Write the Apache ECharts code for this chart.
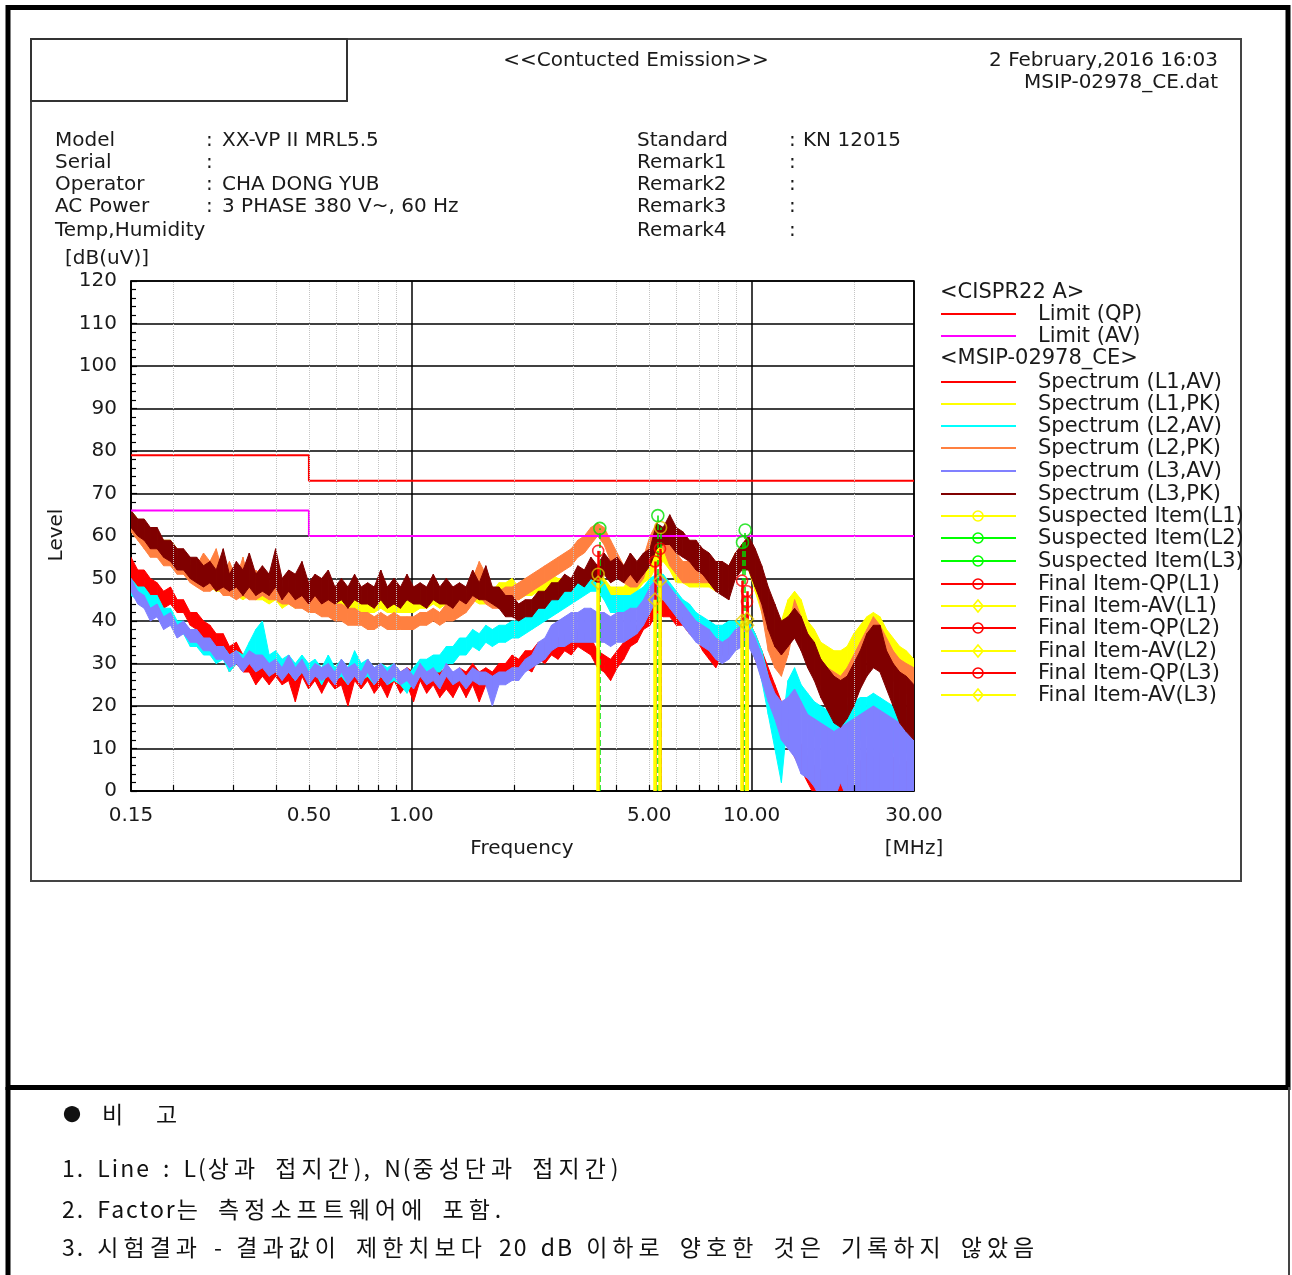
<!DOCTYPE html>
<html><head><meta charset="utf-8">
<script src="https://cdn.jsdelivr.net/npm/echarts/dist/echarts.min.js"></script>
<style>
html,body{margin:0;padding:0;background:#fff;}
#chart{position:absolute;left:0;top:0;width:1292px;height:1275px;}
.rm{position:absolute;font-family:"Noto Sans CJK KR";font-size:23px;line-height:30px;color:#111;white-space:pre;letter-spacing:2px;word-spacing:5px;}
.rm .k{letter-spacing:5px;}
</style></head>
<body>
<div id="chart"></div>
<div class="rm" style="left:63px;top:1098px;font-size:18px;">●</div>
<div class="rm" style="left:102px;top:1098px;">비</div>
<div class="rm" style="left:156px;top:1098px;">고</div>
<div class="rm" style="left:62px;top:1152px;">1. Line : L(<span class="k">상과 접지간</span>), N(<span class="k">중성단과 접지간</span>)</div>
<div class="rm" style="left:62px;top:1193px;">2. Factor<span class="k">는 측정소프트웨어에 포함</span>.</div>
<div class="rm" style="left:62px;top:1231px;">3. <span class="k">시험결과</span> - <span class="k">결과값이 제한치보다</span> 20 dB <span class="k">이하로 양호한 것은 기록하지 않았음</span></div>
<script>
// ---------- data ----------
const freqMHz = [
 0.150,0.157,0.164,0.171,0.179,0.187,0.196,0.205,0.214,0.224,
 0.234,0.245,0.256,0.267,0.280,0.292,0.306,0.320,0.334,0.349,
 0.365,0.382,0.399,0.417,0.436,0.456,0.477,0.499,0.521,0.545,
 0.570,0.596,0.623,0.651,0.681,0.712,0.744,0.778,0.813,0.850,
 0.889,0.929,0.971,1.015,1.061,1.109,1.160,1.212,1.267,1.325,
 1.385,1.448,1.514,1.583,1.655,1.730,1.809,1.891,1.977,2.067,
 2.161,2.259,2.362,2.469,2.581,2.699,2.821,2.950,3.084,3.224,
 3.370,3.524,3.684,3.851,4.026,4.209,4.401,4.601,4.810,5.028,
 5.257,5.496,5.746,6.007,6.280,6.565,6.864,7.176,7.502,7.843,
 8.199,8.572,8.961,9.369,9.795,10.24,10.71,11.19,11.70,12.23,
 12.79,13.37,13.98,14.61,15.28,15.97,16.70,17.46,18.25,19.08,
 19.95,20.86,21.80,22.79,23.83,24.91,26.05,27.23,28.47,30.00];

// Spectrum (L1,AV) red: low / high edge of the noisy trace
const l1AvLo = [
 50,48,48,46,46,43,44,42,42,39, 38,35,35,32,33,28,30,28,28,25,
 27,25,27,25,26,21,27,24,26,23, 26,24,25,20,26,24,26,23,25,22,
 26,23,25,21,26,23,25,22,24,22, 25,22,25,21,25,23,26,26,28,27,
 29,28,31,30,32,31,33,32,34,33, 32,29,28,26,29,31,34,35,38,39,
 42,41,41,39,39,37,36,33,31,29, 32,32,35,35,36,31,27,23,19,15,
 11,8,5,2,-1,-3,-3,-3,-3,-3, -2,-2,0,-1,1,-2,0,-2,-1,-2];
const l1AvHi = [
 55,52,52,50,49,47,48,45,45,42, 42,40,39,37,37,34,35,32,32,30,
 32,30,31,30,30,29,31,29,30,28, 31,29,30,28,30,29,31,28,30,28,
 30,28,29,28,30,28,29,28,29,27, 29,28,30,28,29,28,30,30,32,31,
 33,33,35,35,36,36,37,37,38,37, 36,33,32,31,33,35,38,39,42,43,
 46,45,45,43,43,41,40,37,35,33, 35,36,39,39,40,37,33,29,25,21,
 17,14,11,8,6,5,4,4,5,6, 7,7,9,8,9,6,8,6,7,5];

// Spectrum (L1,PK) yellow
const l1PkLo = [
 63,61,59,57,57,55,54,53,51,50, 49,48,48,47,47,46,46,45,46,45,
 45,44,45,43,44,43,44,42,43,42, 43,42,43,42,43,42,42,42,43,42,
 42,42,42,42,43,43,44,43,44,43, 44,44,45,44,44,44,45,46,46,45,
 46,46,47,47,47,47,46,46,47,48, 48,47,46,44,44,45,46,47,49,50,
 53,54,52,49,49,48,48,48,48,47, 47,48,51,53,52,47,42,37,35,35,
 40,43,39,34,32,29,28,27,27,28, 31,33,35,37,36,33,30,28,27,25];
const l1PkHi = [
 66,64,63,61,61,59,59,57,56,54, 53,52,52,51,52,50,51,49,51,49,
 50,48,49,47,48,47,49,46,47,46, 47,46,48,45,47,46,46,45,47,45,
 46,45,46,45,47,47,48,46,48,47, 48,47,49,48,48,47,49,49,50,48,
 50,49,51,50,51,50,50,49,51,51, 52,51,50,48,48,48,50,51,53,54,
 58,58,57,53,54,52,53,51,52,50, 51,52,56,57,57,52,48,43,41,40,
 45,47,45,40,38,35,34,33,33,34, 37,39,41,42,41,38,36,34,33,31];

// Spectrum (L2,AV) cyan
const l2AvLo = [
 46,45,45,42,43,40,40,37,37,34, 34,32,32,30,31,28,30,29,30,31,
 30,28,29,27,28,26,28,26,28,25, 28,26,27,25,28,26,27,25,27,25,
 26,25,23,26,27,27,28,28,30,30, 32,32,34,33,35,34,35,35,36,36,
 37,38,39,40,41,42,43,44,45,46, 47,47,45,42,42,42,42,43,44,46,
 47,47,45,43,41,39,38,37,36,35, 35,36,36,36,36,32,26,18,10,2,
 18,22,19,16,13,11,8,6,5,8, 10,12,13,14,13,10,9,8,9,8];
const l2AvHi = [
 50,48,48,46,46,43,43,40,40,37, 37,35,35,33,34,32,33,32,35,38,
 40,32,33,31,32,30,32,30,31,29, 32,29,31,29,33,30,31,29,30,29,
 30,28,27,29,31,31,32,32,34,34, 36,36,38,37,39,38,39,39,40,40,
 41,42,43,44,45,46,47,48,49,50, 51,51,49,46,46,46,46,47,48,50,
 51,51,49,47,45,44,42,41,40,39, 39,40,40,40,40,37,33,27,21,14,
 26,29,25,23,21,20,19,19,19,20, 21,22,22,23,22,21,20,19,19,18];

// Spectrum (L2,PK) orange
const l2PkLo = [
 61,59,57,55,55,53,53,51,51,49, 48,47,47,48,46,46,45,46,45,45,
 46,45,45,44,44,43,43,42,42,41, 41,40,40,39,39,39,38,38,39,38,
 38,38,38,38,39,39,40,39,40,40, 41,42,44,46,44,43,43,44,45,45,
 46,47,48,49,50,51,52,53,55,56, 58,60,58,54,51,49,48,48,50,55,
 59,57,53,51,49,49,49,49,49,47, 47,48,51,54,55,50,42,33,29,27,
 32,39,35,31,28,25,22,21,20,22, 25,28,31,34,32,29,26,24,23,22];
const l2PkHi = [
 64,62,61,59,59,57,57,55,55,53, 53,56,54,57,51,54,50,55,49,52,
 50,49,51,48,48,47,47,46,46,45, 45,44,44,43,43,42,42,41,42,41,
 42,41,41,41,42,42,43,42,44,43, 45,46,50,54,51,48,47,48,48,49,
 50,51,52,53,54,55,56,57,59,60, 62,63,62,59,56,53,52,52,55,60,
 63,61,58,56,54,54,53,53,54,52, 52,53,56,58,60,55,48,39,34,32,
 38,45,41,37,34,31,29,28,27,29, 32,35,38,41,39,36,33,31,30,29];

// Spectrum (L3,AV) blue
const l3AvLo = [
 47,44,43,40,41,38,39,36,37,35, 35,33,33,31,31,29,30,28,30,28,
 29,27,28,26,28,26,28,25,27,26, 27,25,28,25,27,25,28,25,27,25,
 27,25,26,24,27,25,26,24,27,25, 26,24,26,25,25,20,25,25,26,26,
 28,29,30,31,33,34,34,35,35,35, 35,35,35,34,35,35,36,37,39,42,
 45,45,43,41,39,37,35,34,33,31, 30,31,33,34,34,31,26,21,17,12,
 10,8,4,3,1,-2,0,-2,2,-2, -1,-2,0,-2,-1,-2,-1,-2,-1,-2];
const l3AvHi = [
 50,47,46,43,44,41,42,39,40,38, 38,36,36,34,34,32,33,31,33,32,
 32,30,31,29,32,29,31,28,30,29, 30,28,31,29,30,28,31,29,30,28,
 30,28,29,27,30,28,29,27,30,28, 29,27,29,28,28,27,28,28,29,29,
 31,32,35,36,39,40,41,42,42,43, 43,42,42,41,42,42,43,43,45,48,
 50,50,48,46,44,42,40,39,38,36, 35,36,38,39,39,36,32,27,23,21,
 22,24,21,18,17,16,15,14,15,16, 17,18,19,20,19,18,17,16,16,15];

// Spectrum (L3,PK) dark red
const l3PkLo = [
 62,60,59,57,57,55,54,52,52,50, 49,48,49,47,48,47,48,46,48,46,
 47,46,48,45,47,45,46,44,46,44, 45,44,45,43,45,44,44,43,45,43,
 44,43,45,44,44,43,45,44,44,43, 45,44,46,45,45,44,43,41,41,40,
 41,41,43,43,45,45,47,47,49,48, 50,49,51,49,50,49,51,49,51,53,
 57,58,58,56,55,54,52,51,49,47, 46,45,50,52,52,48,44,38,34,32,
 34,36,33,29,26,22,19,16,15,17, 20,24,27,29,28,24,20,16,14,12];
const l3PkHi = [
 66,64,64,62,62,59,59,57,57,55, 55,53,54,52,57,51,54,52,56,51,
 53,51,57,50,52,51,54,49,51,50, 52,48,50,48,51,48,49,48,52,48,
 50,48,51,48,49,48,51,48,50,48, 49,48,52,49,53,48,48,46,46,44,
 45,45,47,47,49,49,51,50,53,52, 55,53,56,54,55,53,56,54,56,57,
 63,62,65,62,61,59,59,57,56,54, 54,53,56,58,60,57,53,48,44,40,
 41,43,41,37,35,31,29,27,26,27, 30,33,37,39,39,33,30,28,27,25];

const limitQP = [[0.15,79],[0.5,79],[0.5,73],[30,73]];
const limitAV = [[0.15,66],[0.5,66],[0.5,60],[30,60]];

const suspL1 = [[5.40,62.0],[3.54,51.0]];
const suspL2 = [[3.58,61.8],[9.40,58.5]];
const suspL3 = [[5.30,64.8],[9.57,61.4]];

const finalQPL1 = [[3.54,56.5],[9.37,49.5]];
const finalAVL1 = [[3.54,49.0],[9.37,40.0]];
const finalQPL2 = [[5.20,54.0],[9.69,47.0]];
const finalAVL2 = [[5.20,45.0],[9.69,40.5]];
const finalQPL3 = [[5.38,57.0],[9.69,44.5]];
const finalAVL3 = [[5.38,49.5],[9.69,39.0]];

const xTickLabels = [0.15, 0.5, 1, 5, 10, 30];
const xMinorGrid = [0.2,0.3,0.4,0.5,0.6,0.7,0.8,0.9,2,3,4,5,6,7,8,9,20];

// ---------- chart ----------
const FONT = '"DejaVu Sans"';
const TXT = '#1a1a1a';
const chart = echarts.init(document.getElementById('chart'), null, {renderer:'canvas'});

function vlines(items){ return items.map(p => [{coord:[p[0],0]},{coord:[p[0],p[1]]}]); }

function band(name, lo, hi, color, z){
  const n = Math.min(freqMHz.length, lo.length, hi.length);
  const data = [];
  for (let i = 0; i < n; i++) data.push([freqMHz[i], lo[i], hi[i]]);
  return {name, type:'custom', z, clip:true, silent:true, data,
    encode:{x:0, y:[1,2]},
    renderItem(params, api){
      const i = params.dataIndex;
      if (i >= n - 1) return null;
      const a = data[i], b = data[i+1];
      const pts = [api.coord([a[0],a[1]]), api.coord([a[0],a[2]]), api.coord([b[0],b[2]]), api.coord([b[0],b[1]])];
      return {type:'polygon', shape:{points:pts}, style:{fill:color, stroke:color, lineWidth:1}};
    }};
}
function holder(name, lines, color, width, type, z){
  return {name, type:'line', data:[], z, silent:true,
    markLine:{silent:true, symbol:['none','none'], label:{show:false}, animation:false,
      lineStyle:{color, width, type}, data:lines}};
}
function marks(name, data, symbol, color, size, z){
  return {name, type:'scatter', data, symbol, symbolSize:size, z, silent:true,
    itemStyle:{color:'rgba(0,0,0,0)', borderColor:color, borderWidth:1.6}};
}

const series = [
  holder('grid-minor', xMinorGrid.map(f=>[{coord:[f,0]},{coord:[f,120]}]), '#c4c4c4', 1, 'dotted', 1),
  holder('tick-minor', xMinorGrid.map(f=>[{coord:[f,0]},{coord:[f,1.4]}]), '#000', 1.2, 'solid', 1),
  band('Spectrum (L1,AV)', l1AvLo, l1AvHi, '#ff0000', 2),
  band('Spectrum (L1,PK)', l1PkLo, l1PkHi, '#ffff00', 2),
  band('Spectrum (L2,AV)', l2AvLo, l2AvHi, '#00ffff', 2),
  band('Spectrum (L2,PK)', l2PkLo, l2PkHi, '#ff8040', 2),
  band('Spectrum (L3,AV)', l3AvLo, l3AvHi, '#8080ff', 2),
  band('Spectrum (L3,PK)', l3PkLo, l3PkHi, '#800000', 2),
  {name:'Limit (QP)', type:'line', data:limitQP, showSymbol:false, z:3, lineStyle:{color:'#ff0000', width:2}, silent:true},
  {name:'Limit (AV)', type:'line', data:limitAV, showSymbol:false, z:3, lineStyle:{color:'#ff00ff', width:2}, silent:true},
  holder('susp-lines', vlines([...suspL1, ...suspL2, ...suspL3]), '#00e000', 1.5, 'dashed', 4),
  holder('qp-lines', vlines([...finalQPL1, ...finalQPL2, ...finalQPL3]), '#ff0000', 2.5, 'solid', 5),
  holder('av-lines', vlines([...finalAVL1, ...finalAVL2, ...finalAVL3]), '#ffff00', 3.5, 'solid', 6),
  marks('Suspected Item(L1)', suspL1, 'circle', '#e0c000', 12, 7),
  marks('Suspected Item(L2)', suspL2, 'circle', '#00e000', 12, 7),
  marks('Suspected Item(L3)', suspL3, 'circle', '#00e000', 12, 7),
  marks('Final Item-QP(L1)', finalQPL1, 'circle', '#ff0000', 11, 8),
  marks('Final Item-QP(L2)', finalQPL2, 'circle', '#ff0000', 11, 8),
  marks('Final Item-QP(L3)', finalQPL3, 'circle', '#ff0000', 11, 8),
  marks('Final Item-AV(L1)', finalAVL1, 'diamond', '#e8d000', 13, 8),
  marks('Final Item-AV(L2)', finalAVL2, 'diamond', '#e8d000', 13, 8),
  marks('Final Item-AV(L3)', finalAVL3, 'diamond', '#e8d000', 13, 8)
];

const option = {
  animation:false,
  backgroundColor:'#fff',
  grid:{left:131, top:281, width:783, height:510, show:true, borderColor:'#000', borderWidth:1.5, containLabel:false},
  xAxis:{type:'log', logBase:10, min:0.15, max:30,
    axisLine:{show:true, onZero:false, lineStyle:{color:'#000', width:1.5}},
    axisTick:{show:false}, axisLabel:{show:false},
    splitLine:{show:true, lineStyle:{color:'#000', width:1.5}}},
  yAxis:{type:'value', min:0, max:120, interval:10,
    axisLine:{show:true, lineStyle:{color:'#000', width:1.5}},
    axisTick:{show:true, inside:true, length:6, lineStyle:{color:'#000', width:1.2}},
    minorTick:{show:true, splitNumber:5, length:5, lineStyle:{color:'#000', width:1.2}},
    splitLine:{show:true, lineStyle:{color:'#000', width:1.5}},
    axisLabel:{color:TXT, fontSize:20, fontFamily:'DejaVu Sans', margin:14}},
  series
};
chart.setOption(option);

// ---------- static graphics ----------
function txt(x, y, text, opts){
  opts = opts || {};
  const align = opts.align || 'left';
  return {type:'text', x, y, z:100, rotation:opts.rotation||0, silent:true,
    style:{text, fill:opts.color||TXT, font:(opts.size||20)+'px '+FONT,
      align, textAlign:align, verticalAlign:'middle', textVerticalAlign:'middle'}};
}
const g = [];
g.push({type:'rect', z:100, shape:{x:8, y:7.5, width:1280, height:1080}, style:{fill:'none', stroke:'#000', lineWidth:5}});
g.push({type:'line', z:100, shape:{x1:8, y1:1087, x2:8, y2:1275}, style:{stroke:'#000', lineWidth:5}});
g.push({type:'line', z:100, shape:{x1:1289, y1:1087, x2:1289, y2:1275}, style:{stroke:'#444', lineWidth:2}});
g.push({type:'rect', z:100, shape:{x:31, y:39, width:1210, height:842}, style:{fill:'none', stroke:'#444', lineWidth:2}});
g.push({type:'rect', z:100, shape:{x:31, y:39, width:316, height:62}, style:{fill:'none', stroke:'#333', lineWidth:2}});
g.push(txt(636, 61, '<<Contucted Emission>>', {align:'center'}));
g.push(txt(1218, 61, '2 February,2016 16:03', {align:'right'}));
g.push(txt(1218, 83, 'MSIP-02978_CE.dat', {align:'right'}));
const infoL = [['Model','XX-VP II MRL5.5'],['Serial',''],['Operator','CHA DONG YUB'],['AC Power','3 PHASE 380 V~, 60 Hz'],['Temp,Humidity','']];
const infoY = [141,163,185,207,231];
infoL.forEach((r,i)=>{ g.push(txt(55, infoY[i], r[0])); if(i<4) g.push(txt(206, infoY[i], ':')); if(r[1]) g.push(txt(222, infoY[i], r[1])); });
const infoR = [['Standard','KN 12015'],['Remark1',''],['Remark2',''],['Remark3',''],['Remark4','']];
infoR.forEach((r,i)=>{ g.push(txt(637, infoY[i], r[0])); g.push(txt(789, infoY[i], ':')); if(r[1]) g.push(txt(803, infoY[i], r[1])); });
g.push(txt(65, 259, '[dB(uV)]'));
g.push(txt(57, 535, 'Level', {align:'center', rotation:Math.PI/2}));
g.push(txt(522, 849, 'Frequency', {align:'center'}));
g.push(txt(914, 849, '[MHz]', {align:'center'}));
xTickLabels.forEach(v=>{
  const px = chart.convertToPixel({xAxisIndex:0}, v);
  g.push(txt(px, 816, v.toFixed(2), {align:'center'}));
});
const LX1 = 941, LX2 = 1016, LM = 978, LT = 1038, LS = 21;
g.push(txt(940, 293, '<CISPR22 A>', {size:LS}));
g.push(txt(940, 359, '<MSIP-02978_CE>', {size:LS}));
const legendRows = [
  ['Limit (QP)','#ff0000',null,314],['Limit (AV)','#ff00ff',null,336],
  ['Spectrum (L1,AV)','#ff0000',null,382],['Spectrum (L1,PK)','#ffff00',null,404],
  ['Spectrum (L2,AV)','#00ffff',null,426],['Spectrum (L2,PK)','#ff8040',null,448],
  ['Spectrum (L3,AV)','#8080ff',null,471],['Spectrum (L3,PK)','#800000',null,494],
  ['Suspected Item(L1)','#ffff00','c',516],['Suspected Item(L2)','#00ff00','c',538],
  ['Suspected Item(L3)','#00ff00','c',561],['Final Item-QP(L1)','#ff0000','c',584],
  ['Final Item-AV(L1)','#ffff00','d',606],['Final Item-QP(L2)','#ff0000','c',628],
  ['Final Item-AV(L2)','#ffff00','d',651],['Final Item-QP(L3)','#ff0000','c',673],
  ['Final Item-AV(L3)','#ffff00','d',695]];
legendRows.forEach(r=>{
  const y = r[3];
  g.push({type:'line', z:100, shape:{x1:LX1, y1:y, x2:LX2, y2:y}, style:{stroke:r[1], lineWidth:2}});
  if(r[2]==='c') g.push({type:'circle', z:101, shape:{cx:LM, cy:y, r:5}, style:{fill:'none', stroke:r[1], lineWidth:1.6}});
  if(r[2]==='d') g.push({type:'polygon', z:101, shape:{points:[[LM,y-6],[LM+5,y],[LM,y+6],[LM-5,y]]}, style:{fill:'none', stroke:r[1], lineWidth:1.6}});
  g.push(txt(LT, y+1, r[0], {size:LS}));
});
chart.setOption({graphic:{elements:g}});
</script>
</body></html>
